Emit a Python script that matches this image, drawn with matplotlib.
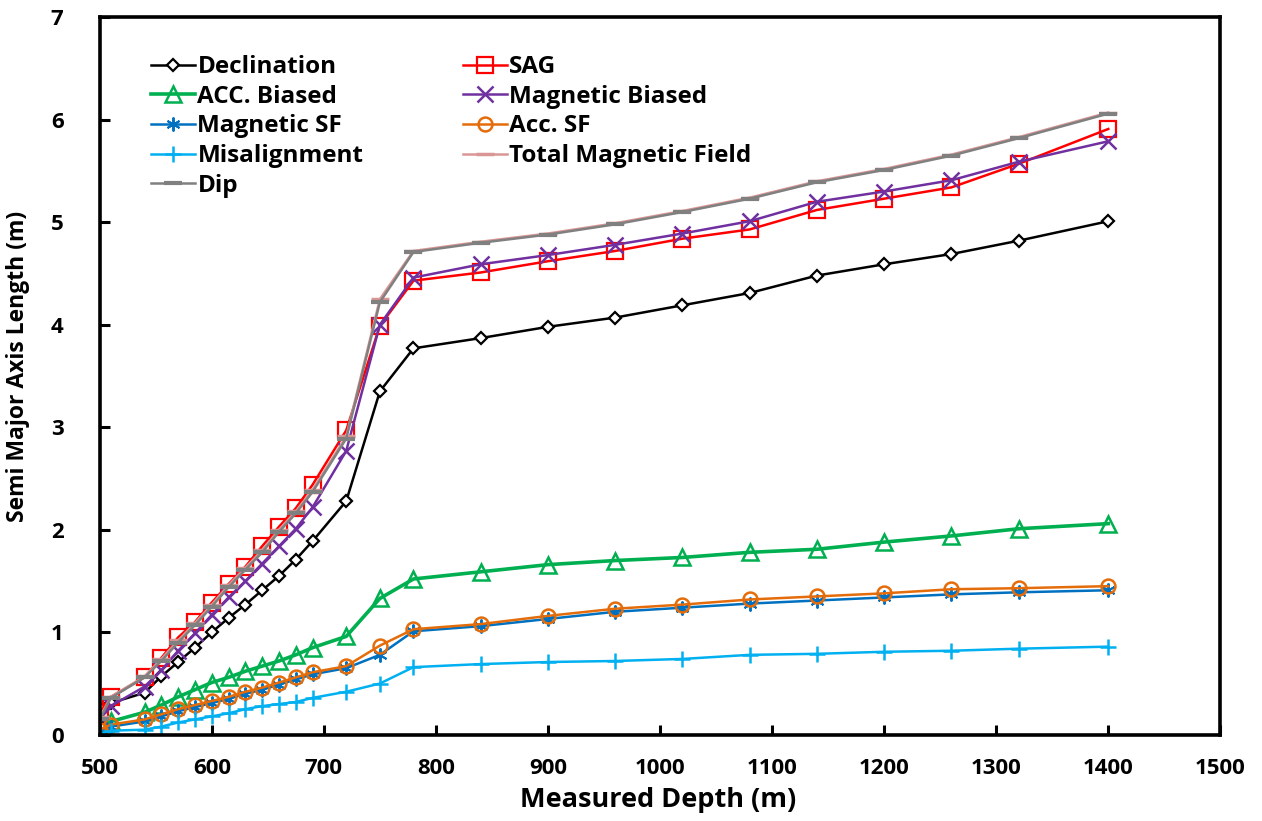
import numpy as np
import matplotlib
matplotlib.use("Agg")
import matplotlib.pyplot as plt

plt.rcParams['font.family'] = ['Open Sans', 'DejaVu Sans']
plt.rcParams['font.weight'] = 'bold'

# measured depth (m)
depth = [500, 510, 540, 555, 570, 585, 600, 615, 630, 645, 660, 675, 690,
         720, 750, 780, 840, 900, 960, 1020, 1080, 1140, 1200, 1260, 1320, 1400]

declination = [0.15, 0.31, 0.41, 0.57, 0.71, 0.85, 1.00, 1.14, 1.27, 1.41, 1.55, 1.71, 1.89,
               2.28, 3.35, 3.77, 3.87, 3.98, 4.07, 4.19, 4.31, 4.48, 4.59, 4.69, 4.82, 5.01]
sag = [0.22, 0.37, 0.56, 0.75, 0.95, 1.10, 1.29, 1.47, 1.64, 1.84, 2.03, 2.21, 2.44,
       2.97, 3.99, 4.43, 4.51, 4.62, 4.72, 4.84, 4.93, 5.12, 5.23, 5.34, 5.57, 5.91]
acc_biased = [0.00, 0.13, 0.22, 0.29, 0.37, 0.44, 0.51, 0.56, 0.62, 0.67, 0.72, 0.78, 0.85,
              0.96, 1.33, 1.52, 1.59, 1.66, 1.70, 1.73, 1.78, 1.81, 1.88, 1.94, 2.01, 2.06]
mag_biased = [0.17, 0.28, 0.47, 0.63, 0.82, 0.99, 1.17, 1.34, 1.50, 1.67, 1.84, 2.01, 2.22,
              2.77, 4.00, 4.46, 4.59, 4.68, 4.78, 4.89, 5.01, 5.20, 5.30, 5.41, 5.59, 5.79]
mag_sf = [0.04, 0.08, 0.13, 0.18, 0.23, 0.27, 0.31, 0.35, 0.40, 0.44, 0.49, 0.54, 0.59,
          0.65, 0.78, 1.01, 1.06, 1.13, 1.20, 1.24, 1.28, 1.31, 1.34, 1.37, 1.39, 1.41]
acc_sf = [0.05, 0.10, 0.15, 0.20, 0.25, 0.29, 0.33, 0.37, 0.42, 0.46, 0.51, 0.56, 0.61,
          0.67, 0.87, 1.03, 1.08, 1.16, 1.23, 1.27, 1.32, 1.35, 1.38, 1.42, 1.43, 1.45]
misalign = [0.00, 0.04, 0.05, 0.08, 0.12, 0.15, 0.18, 0.21, 0.25, 0.28, 0.30, 0.32, 0.36,
            0.42, 0.50, 0.66, 0.69, 0.71, 0.72, 0.74, 0.78, 0.79, 0.81, 0.82, 0.84, 0.86]
total_mag = [0.17, 0.37, 0.57, 0.74, 0.92, 1.09, 1.27, 1.46, 1.63, 1.80, 2.00, 2.18, 2.39,
             2.91, 4.25, 4.72, 4.81, 4.89, 4.99, 5.11, 5.24, 5.40, 5.52, 5.66, 5.83, 6.07]
dip = [0.15, 0.36, 0.56, 0.72, 0.90, 1.07, 1.25, 1.44, 1.61, 1.78, 1.98, 2.16, 2.37,
       2.89, 4.22, 4.71, 4.80, 4.88, 4.98, 5.10, 5.23, 5.39, 5.51, 5.65, 5.82, 6.06]

fig = plt.figure(figsize=(12.62, 8.21), dpi=100)
ax = fig.add_axes([0.079, 0.105, 0.888, 0.874])

asterisk = (6, 2, 0)
l1, = ax.plot(depth, declination, color='black', lw=1.8, marker='D', ms=6,
              mfc='white', mec='black', mew=1.6, label='Declination')
l2, = ax.plot(depth, sag, color='#FF0000', lw=1.8, marker='s', ms=11,
              mfc='none', mec='#FF0000', mew=1.6, label='SAG')
l3, = ax.plot(depth, acc_biased, color='#00B050', lw=2.6, marker='^', ms=12,
              mfc='none', mec='#00B050', mew=1.8, label='ACC. Biased')
l4, = ax.plot(depth, mag_biased, color='#7030A0', lw=1.8, marker='x', ms=11,
              mec='#7030A0', mew=1.8, label='Magnetic Biased')
l5, = ax.plot(depth, mag_sf, color='#0070C0', lw=1.8, marker=asterisk, ms=10,
              mec='#0070C0', mew=1.4, label='Magnetic SF')
l6, = ax.plot(depth, acc_sf, color='#E46C0A', lw=1.8, marker='o', ms=10,
              mfc='none', mec='#E46C0A', mew=1.8, label='Acc. SF')
l7, = ax.plot(depth, misalign, color='#00B0F0', lw=1.8, marker='+', ms=11,
              mec='#00B0F0', mew=1.8, label='Misalignment')
l8, = ax.plot(depth, total_mag, color='#D99694', lw=1.8, marker='_', ms=13,
              mec='#D99694', mew=2.5, label='Total Magnetic Field')
l9, = ax.plot(depth, dip, color='#808080', lw=1.8, marker='_', ms=13,
              mec='#808080', mew=3.0, label='Dip')

ax.set_xlim(500, 1500)
ax.set_ylim(0, 7)
ax.set_xticks(np.arange(500, 1501, 100))
ax.set_yticks(np.arange(0, 8, 1))
ax.tick_params(direction='in', length=7, width=2.2, labelsize=16)
ax.tick_params(axis='x', pad=17)
ax.tick_params(axis='y', pad=26)
for lab in ax.get_xticklabels() + ax.get_yticklabels():
    lab.set_fontweight('bold')
for sp in ax.spines.values():
    sp.set_linewidth(2.6)
    sp.set_color('black')

ax.set_xlabel('Measured Depth (m)', fontsize=19.5, fontweight='bold', va='top')
ax.xaxis.set_label_coords(0.498, -0.073)
ax.set_ylabel('Semi Major Axis Length (m)', fontsize=16.5, fontweight='bold')
ax.yaxis.set_label_coords(-0.062, 0.513)

handles = [l1, l3, l5, l7, l9, l2, l4, l6, l8]
ax.legend(handles=handles, ncol=2, loc='upper left', bbox_to_anchor=(0.046, 0.947),
          frameon=False, handlelength=1.8, handletextpad=0.1,
          columnspacing=4.1, labelspacing=0.23, borderaxespad=0, borderpad=0,
          prop={'weight': 'bold', 'size': 17.5})

fig.savefig('out.png', dpi=100)
